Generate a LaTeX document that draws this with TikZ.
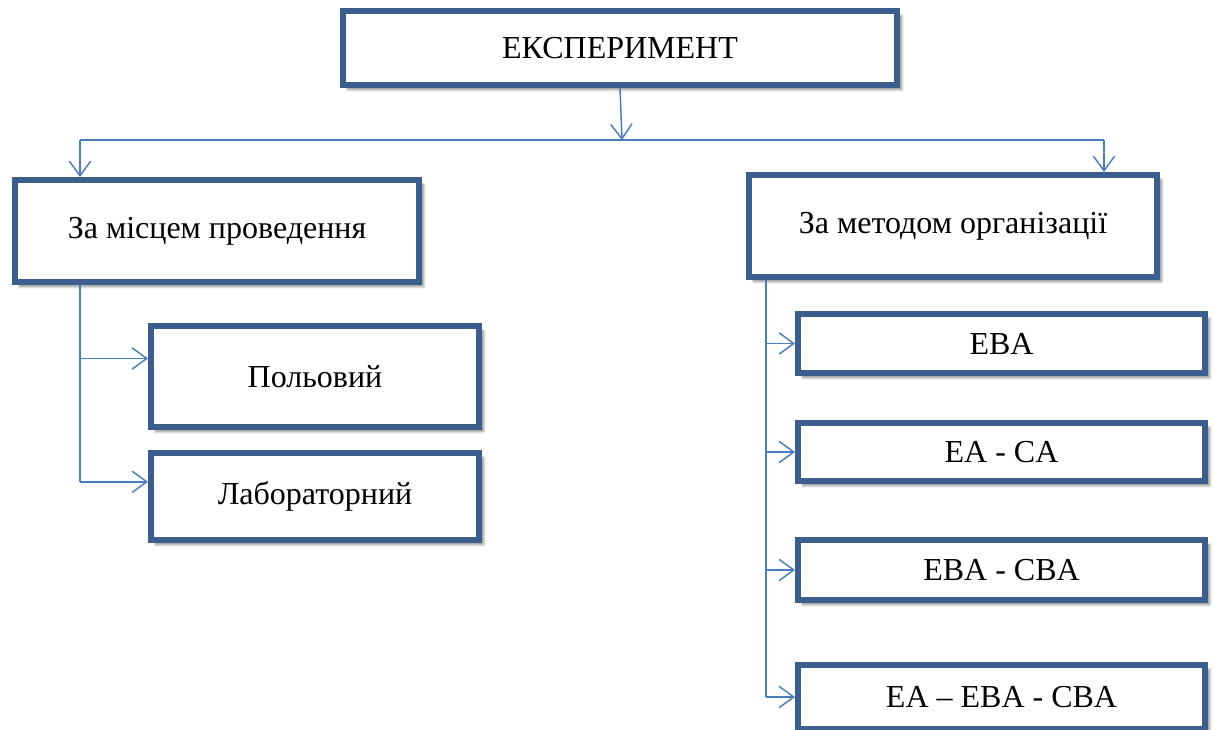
\documentclass[tikz,border=0pt]{standalone}
\usepackage{fontspec}
\setmainfont{Liberation Serif}
\usetikzlibrary{arrows.meta,positioning,calc,shadows.blur}
\definecolor{frame}{HTML}{3B5E8C}
\definecolor{wire}{HTML}{4A7EBB}

\begin{document}
\begin{tikzpicture}[x=0.75pt,y=-0.75pt,
  box/.style 2 args={draw=frame,line width=4.5pt,fill=white,inner sep=0pt,
    minimum width=#1*0.75pt,minimum height=#2*0.75pt,
    font=\fontsize{24}{29}\selectfont,
    blur shadow={shadow xshift=3.5pt,shadow yshift=-3.5pt,shadow blur steps=8,shadow opacity=45}},
  wire/.style={draw=wire,line width=1.1pt},
  arr/.style={wire,-{Straight Barb[length=11pt,width=16pt,line width=1.1pt]}},
]
  \useasboundingbox (0,0) rectangle (1215,730);

  \node[box={554}{74}] (exp) at (620,48) {ЕКСПЕРИМЕНТ};
  \node[box={404}{102}] (place) at (217,231) {За місцем проведення};
  \node[box={408}{102}] (method) at (953,226) {За методом організації};

  \node[box={328}{101}] (field) at (315,376.5) {Польовий};
  \node[box={328}{87}] (lab) at (315,496.5) {Лабораторний};

  \node[box={407}{59}] (eba) at (1001.5,343.5) {EBA};
  \node[box={407}{58}] (eaca) at (1001.5,452) {EA - CA};
  \node[box={407}{60}] (ebacba) at (1001.5,570) {EBA - CBA};
  \node[box={407}{64}] (eaebacba) at (1001.5,697) {EA -- EBA - CBA};

  % top level split
  \coordinate (hub) at (622,140);
  \coordinate (hl) at (80,140);
  \coordinate (hr) at (1104,140);
  \draw[arr] (exp.south) -- (hub);
  \draw[wire] (hl) -- (hr);
  \draw[arr] (hl) -- (hl |- place.north);
  \draw[arr] (hr) -- (hr |- method.north);

  % left branch
  \coordinate (lt) at (hl |- place.south);
  \coordinate (lf) at ([yshift=13.5pt]field.west);
  \coordinate (ll) at ([yshift=11pt]lab.west);
  \draw[wire] (lt) -- (lt |- ll);
  \draw[arr] (lt |- lf) -- (lf);
  \draw[arr] (lt |- ll) -- (ll);

  % right branch
  \coordinate (rt) at (766,0 |- method.south);
  \draw[wire] (rt) -- (rt |- eaebacba.west);
  \foreach \n in {eba,eaca,ebacba,eaebacba}
    \draw[arr] (rt |- \n.west) -- (\n.west);
\end{tikzpicture}
\end{document}
